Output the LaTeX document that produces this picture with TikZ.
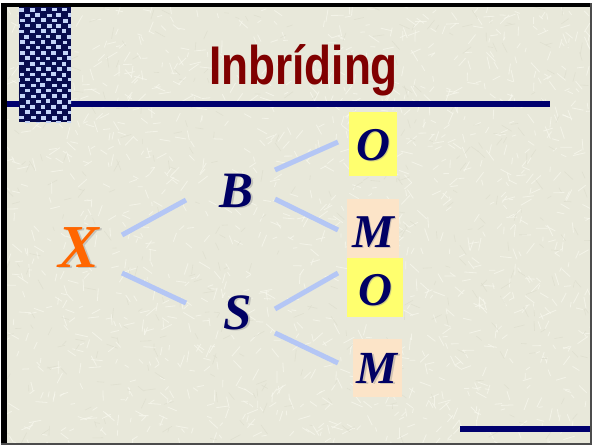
\documentclass[tikz,border=0pt]{standalone}
\usepackage{fontspec}
\setmainfont{Liberation Serif}
\newfontfamily\titlefont{Liberation Sans}[FakeStretch=0.81]
\usetikzlibrary{calc}

\definecolor{paper}{RGB}{232,232,218}
\definecolor{grainlight}{RGB}{248,248,238}
\definecolor{graindark}{RGB}{218,218,202}
\definecolor{navy}{RGB}{0,0,110}
\definecolor{blockblue}{RGB}{8,12,78}
\definecolor{chipblue}{RGB}{196,212,248}
\definecolor{ink}{RGB}{0,0,100}
\definecolor{titlered}{RGB}{128,0,0}
\definecolor{orange}{RGB}{255,102,0}
\definecolor{linkblue}{RGB}{180,198,245}
\definecolor{lemon}{RGB}{255,255,110}
\definecolor{peach}{RGB}{252,228,200}

\tikzset{
  grainA/.style={draw=grainlight, line width=0.8pt, opacity=0.75},
  grainB/.style={draw=graindark, line width=0.6pt, opacity=0.6},
  chip/.style={fill=chipblue},
  band/.style={fill=navy},
  letter/.style={font=\bfseries\itshape\fontsize{#1}{#1}\selectfont,
                 text=ink, inner sep=0pt, anchor=base},
  shade/.style={text=black!40, opacity=0.45},
  link/.style={draw=linkblue, line width=5pt},
  lemonbox/.style={fill=lemon, draw=none, inner sep=0pt},
  peachbox/.style={fill=peach, draw=none, inner sep=0pt},
  titletext/.style={font=\titlefont\bfseries\fontsize{54.5}{54.5}\selectfont,
                    text=titlered, inner sep=0pt, anchor=base}
}

\begin{document}
\begin{tikzpicture}[x=1pt,y=-1pt]
\useasboundingbox (0,0) rectangle (592,445);
\fill[white] (0,0) rectangle (592,445);
\fill[paper] (1,3) rectangle (591,444);

% paper grain
\pgfmathsetseed{17}
\begin{scope}
  \clip (6,6) rectangle (590,443);
  \foreach \i in {1,...,1400}{
    \pgfmathsetmacro\px{6+584*rnd}
    \pgfmathsetmacro\py{6+437*rnd}
    \pgfmathsetmacro\ang{360*rnd}
    \pgfmathsetmacro\len{4+9*rnd}
    \draw[grainA] (\px,\py) -- ++(\ang:\len);
  }
  \foreach \i in {1,...,400}{
    \pgfmathsetmacro\px{6+584*rnd}
    \pgfmathsetmacro\py{6+437*rnd}
    \pgfmathsetmacro\ang{360*rnd}
    \pgfmathsetmacro\len{4+8*rnd}
    \draw[grainB] (\px,\py) -- ++(\ang:\len);
  }
\end{scope}

% frame: heavy left/top edge, thin right/bottom edge
\fill[black] (1,3) rectangle (6.5,444);
\fill[black] (1,3) rectangle (591,6.5);
\fill[black!70] (590,3) rectangle (591.5,444);
\fill[black!70] (1,443) rectangle (591.5,444.5);

% rules
\fill[band] (7,101) rectangle (550,107);
\fill[band] (460,426) rectangle (590,432);

% woven block
\fill[blockblue] (19,6.5) rectangle (71,122);
\begin{scope}
  \clip (19,6.5) rectangle (71,122);
  \foreach \r in {0,...,21}{
    \foreach \c in {-1,...,5}{
      \pgfmathsetmacro\sx{19+\c*10.6+mod(\r,2)*5.3+1.4*rnd}
      \pgfmathsetmacro\sy{7.5+\r*5.4+0.8*rnd}
      \fill[chip] (\sx,\sy) rectangle ++(4.8,3.6);
    }
  }
\end{scope}

% title
\node[titletext] (title) at (303.5,84) {Inbríding};

% highlight boxes
\node[lemonbox, minimum width=48pt, minimum height=64pt] (boxO1) at (373,144) {};
\node[peachbox, minimum width=52pt, minimum height=59pt] (boxM1) at (373,228.5) {};
\node[lemonbox, minimum width=56pt, minimum height=59pt] (boxO2) at (375,287.5) {};
\node[peachbox, minimum width=49pt, minimum height=58pt] (boxM2) at (377.5,368) {};

% letter shadows
\node[letter=61, shade] (Xs)  at (80.5,268.5) {X};
\node[letter=51, shade] (Bs)  at (238.5,208.5) {B};
\node[letter=51, shade] (Ss)  at (239.5,330.5) {S};
\node[letter=47, shade] (O1s) at (374.5,161.5) {O};
\node[letter=47, shade] (M1s) at (374.5,248.5) {M};
\node[letter=47, shade] (O2s) at (376.5,306.5) {O};
\node[letter=46, shade] (M2s) at (378.5,384.5) {M};

% letters
\node[letter=61, text=orange] (X) at (79,267) {X};
\node[letter=51] (B)  at (237,207) {B};
\node[letter=51] (S)  at (238,329) {S};
\node[letter=47] (O1) at (373,160) {O};
\node[letter=47] (M1) at (373,247) {M};
\node[letter=47] (O2) at (375,305) {O};
\node[letter=46] (M2) at (377,383) {M};

% branches
\draw[link] ($(X.base)+(43,-32)$) -- ($(B.base)+(-51,-7)$);
\draw[link] ($(X.base)+(43,6)$)   -- ($(S.base)+(-52,-26)$);
\draw[link] ($(B.base)+(38,-37)$) -- ($(O1.base)+(-35,-18)$);
\draw[link] ($(B.base)+(38,-8)$)  -- ($(M1.base)+(-35,-17)$);
\draw[link] ($(S.base)+(37,-20)$) -- ($(O2.base)+(-37,-32)$);
\draw[link] ($(S.base)+(37,4)$)   -- ($(M2.base)+(-39,-20)$);
\end{tikzpicture}
\end{document}
